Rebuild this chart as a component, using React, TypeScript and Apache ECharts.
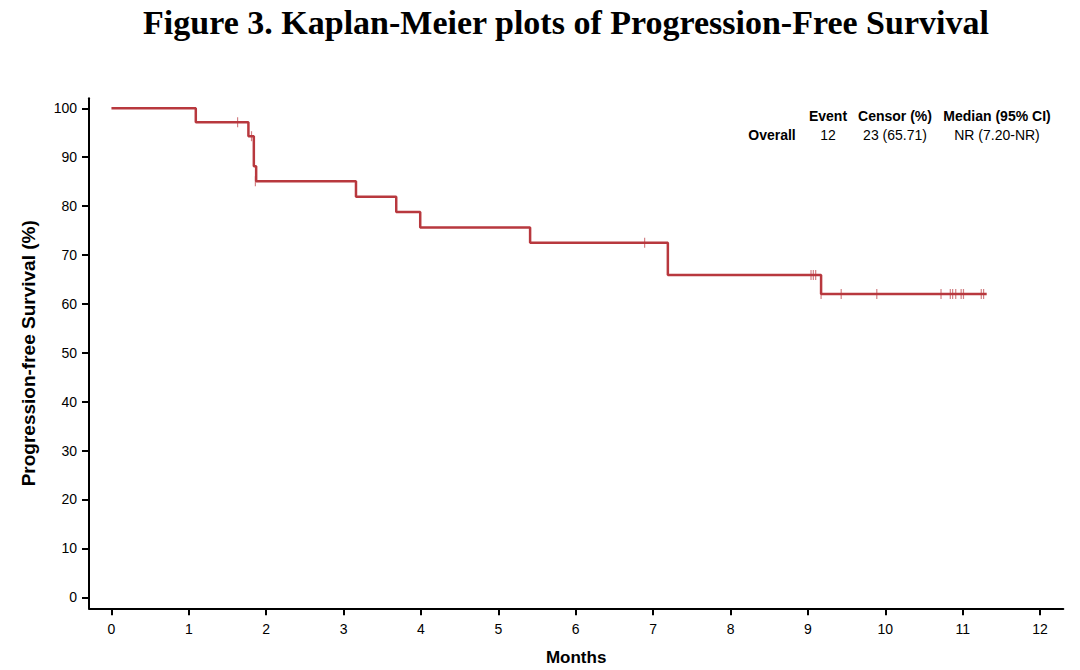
import React, { useEffect, useRef } from "react";
import * as echarts from "echarts";

// Kaplan-Meier step curve: time (months) at which survival changes, and survival (%) after it
const stepTimes = [0, 1.09, 1.77, 1.84, 1.87, 3.16, 3.68, 3.99, 5.41, 7.19, 9.17, 11.31];
const survival = [100, 97.14, 94.29, 88.12, 85.08, 81.93, 78.78, 75.63, 72.48, 65.89, 62.02, 62.02];

// Censor marks
const censorTimes = [1.63, 1.81, 1.86, 6.89, 9.04, 9.07, 9.1, 9.17, 9.43, 9.89, 10.72, 10.84, 10.87, 10.91, 10.98, 11.01, 11.24, 11.27];
const censorSurvival = [97.14, 94.29, 85.08, 72.48, 65.89, 65.89, 65.89, 62.02, 62.02, 62.02, 62.02, 62.02, 62.02, 62.02, 62.02, 62.02, 62.02, 62.02];

const xTicks = [0, 1, 2, 3, 4, 5, 6, 7, 8, 9, 10, 11, 12];
const yTicks = [0, 10, 20, 30, 40, 50, 60, 70, 80, 90, 100];

const tableHeader = ["Event", "Censor (%)", "Median (95% CI)"];
const tableRow = ["Overall", "12", "23 (65.71)", "NR (7.20-NR)"];

const titleText = "Figure 3. Kaplan-Meier plots of Progression-Free Survival";

const RED = "#B8383E";
const SANS = "'Liberation Sans', Arial, sans-serif";

export default function App() {
  const ref = useRef<HTMLDivElement>(null);

  useEffect(() => {
    if (!ref.current) return;
    const chart = echarts.init(ref.current, null, { renderer: "svg" });

    const lineData = stepTimes.map((t, i) => [t, survival[i]]);
    const censorData = censorTimes.map((t, i) => [t, censorSurvival[i]]);

    const colX = [828, 895, 997];
    const headerY = 116;
    const rowY = 135;

    const graphics: any[] = [
      {
        type: "text",
        x: 566,
        y: 22,
        style: {
          text: titleText,
          fontFamily: "'Liberation Serif', 'Times New Roman', serif",
          fontWeight: "bold",
          fontSize: 34,
          fill: "#000",
          textAlign: "center",
          textVerticalAlign: "middle",
        },
      },
      ...tableHeader.map((h, i) => ({
        type: "text",
        x: colX[i],
        y: headerY,
        style: {
          text: h,
          fontFamily: SANS,
          fontWeight: "bold",
          fontSize: 14,
          fill: "#000",
          textAlign: "center",
          textVerticalAlign: "middle",
        },
      })),
      {
        type: "text",
        x: 772,
        y: rowY,
        style: {
          text: tableRow[0],
          fontFamily: SANS,
          fontWeight: "bold",
          fontSize: 14,
          fill: "#000",
          textAlign: "center",
          textVerticalAlign: "middle",
        },
      },
      ...tableRow.slice(1).map((v, i) => ({
        type: "text",
        x: colX[i],
        y: rowY,
        style: {
          text: v,
          fontFamily: SANS,
          fontSize: 14,
          fill: "#000",
          textAlign: "center",
          textVerticalAlign: "middle",
        },
      })),
    ];

    chart.setOption({
      animation: false,
      backgroundColor: "#fff",
      grid: {
        left: 89,
        right: 16.7,
        top: 98.3,
        bottom: 61.7,
        containLabel: false,
        outerBoundsMode: "none",
      },
      xAxis: {
        type: "value",
        min: -0.29,
        max: 12.3,
        name: "Months",
        nameLocation: "middle",
        nameGap: 41,
        nameTextStyle: { fontFamily: SANS, fontWeight: "bold", fontSize: 17, color: "#000" },
        axisLine: { show: true, onZero: false, lineStyle: { color: "#000", width: 2 } },
        axisTick: { show: true, customValues: xTicks, length: 7, lineStyle: { color: "#000", width: 2 } },
        axisLabel: { customValues: xTicks, margin: 14, fontFamily: SANS, fontSize: 14, color: "#000" },
        splitLine: { show: false },
      },
      yAxis: {
        type: "value",
        min: -2.25,
        max: 102.04,
        name: "Progression-free Survival (%)",
        nameLocation: "middle",
        nameGap: 51,
        nameRotate: 90,
        nameTextStyle: { fontFamily: SANS, fontWeight: "bold", fontSize: 19, color: "#000" },
        axisLine: { show: true, onZero: false, lineStyle: { color: "#000", width: 2 } },
        axisTick: { show: true, customValues: yTicks, length: 7, lineStyle: { color: "#000", width: 2 } },
        axisLabel: { customValues: yTicks, margin: 12, fontFamily: SANS, fontSize: 14, color: "#000" },
        splitLine: { show: false },
      },
      series: [
        {
          type: "line",
          step: "end",
          data: lineData,
          symbol: "none",
          lineStyle: { color: RED, width: 2.5 },
          z: 2,
        },
        {
          type: "scatter",
          data: censorData,
          symbol: "rect",
          symbolSize: [1.2, 10],
          itemStyle: { color: "rgba(184,56,62,0.8)" },
          z: 3,
        },
      ],
      graphic: graphics,
    });

    return () => chart.dispose();
  }, []);

  return (
    <div
      ref={ref}
      style={{ position: "fixed", left: 0, top: 0, width: 1080, height: 670, background: "#fff" }}
    />
  );
}
